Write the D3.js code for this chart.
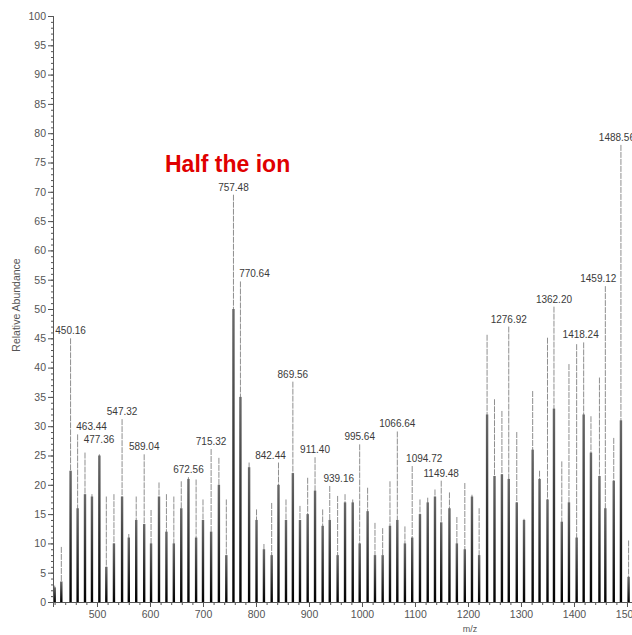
<!DOCTYPE html>
<html>
<head>
<meta charset="utf-8">
<script src="https://cdn.jsdelivr.net/npm/d3@7"></script>
<style>
  body { margin: 0; background: #fff; }
  svg { display: block; font-family: "Liberation Sans", Arial, sans-serif; }
  .axis path, .axis line { stroke: #555; }
  .axis text { fill: #555; font-size: 10.5px; }
</style>
</head>
<body>
<div id="chart"></div>
<script>
// peak clusters: m/z, tallest line, dense dark core
const peakMz = [420.2, 432.7, 450.16, 463.44, 477.36, 490.5, 504.5, 517.6, 532, 547.32,
  560, 574, 589.04, 602, 617, 631, 645, 659, 672.56, 687,
  700, 715.32, 730, 744, 757.48, 770.64, 787, 801, 815, 829.6,
  842.44, 856.6, 869.56, 883, 897.5, 911.40, 925.8, 939.16, 954, 968,
  982.5, 995.64, 1010.6, 1024.5, 1039, 1052.8, 1066.64, 1081, 1094.72, 1109.4,
  1124, 1137.7, 1149.48, 1165, 1179, 1194, 1207.5, 1221, 1236, 1250,
  1264, 1276.92, 1292, 1305.7, 1322, 1335, 1350, 1362.20, 1377, 1390.5,
  1405, 1418.24, 1432, 1448, 1459.12, 1475, 1488.56, 1503];

const peakTop = [2.8, 9.4, 45, 28.6, 25.5, 18.4, 25.2, 18, 18.4, 31.2,
  11.6, 18, 25.2, 15.7, 20.4, 18.4, 18, 20.6, 21.3, 20.9,
  17.5, 26.1, 24.6, 17.5, 69.5, 54.7, 23.8, 15.8, 9.9, 16.9,
  23.8, 17.5, 37.6, 16.4, 21.2, 24.7, 15.8, 19.8, 18.1, 18.4,
  17.5, 26.9, 19.5, 13.5, 12.6, 20.6, 29.1, 12.9, 23.2, 17.5,
  17.8, 19.2, 20.7, 18.7, 14.5, 20.3, 18.3, 16, 45.6, 34.6,
  32.6, 47, 29, 14.2, 36, 22.4, 45.1, 50.4, 24, 40.6,
  44, 44.3, 31.7, 38.3, 53.9, 28, 78, 10.5];

const peakCore = [2.5, 3.5, 22.4, 16, 18.4, 18, 25, 6, 10, 18,
  11, 14, 13.3, 10, 18, 12, 10, 16, 21, 11,
  14, 12, 20, 8, 50, 35, 23, 14, 9, 8,
  20, 14, 22, 14, 15, 19, 13, 14, 8, 17,
  17, 10, 15.5, 8, 8, 13, 14, 10, 11, 15,
  17, 18, 13.6, 16, 10, 9, 18, 8, 32, 21.5,
  21.8, 21, 17, 14, 26, 21, 17.5, 33, 13.7, 17,
  11, 32, 25.5, 21.5, 16, 20.7, 31, 4.3];

const labelMz = [450.16, 463.44, 477.36, 547.32, 589.04, 672.56, 715.32, 757.48, 770.64,
  842.44, 869.56, 911.40, 939.16, 995.64, 1066.64, 1094.72, 1149.48,
  1276.92, 1362.20, 1418.24, 1459.12, 1488.56];

const xTicks = [500, 600, 700, 800, 900, 1000, 1100, 1200, 1300, 1400, 1500];
const yTicks = d3.range(0, 101, 5);

// label nudges (px) where the instrument software moved labels sideways
const labelNudge = {463.44: 14, 477.36: 14, 770.64: 14, 842.44: -8, 939.16: 9,
  1094.72: 12, 1418.24: -3, 1459.12: -7, 1488.56: -4};
const labelLift = {477.36: 6};

function drawSpectrum() {
    let width = 632, height = 635;

    let svg = d3.select("#chart").append("svg")
        .attr("width", width)
        .attr("height", height);

    let x = d3.scaleLinear().domain([417, 1510]).range([53, 632.3]);
    let y = d3.scaleLinear().domain([0, 100]).range([602, 16]);

    let grad = svg.append("defs").append("linearGradient")
        .attr("id", "core")
        .attr("x1", 0).attr("y1", 0).attr("x2", 0).attr("y2", 1);
    grad.append("stop").attr("offset", "0%").attr("stop-color", "#6a6a6a");
    grad.append("stop").attr("offset", "60%").attr("stop-color", "#2a2a2a");
    grad.append("stop").attr("offset", "100%").attr("stop-color", "#000");

    let peaks = peakMz.map((m, i) => ({mz: m, top: peakTop[i], core: peakCore[i]}));

    // thin gray line up to the tallest member of each cluster
    svg.append("g").selectAll("line")
        .data(peaks)
        .enter().append("line")
        .attr("x1", d => x(d.mz))
        .attr("x2", d => x(d.mz))
        .attr("y1", d => y(d.top))
        .attr("y2", y(0))
        .attr("stroke", "#8f8f8f")
        .attr("stroke-width", 1)
        .attr("stroke-dasharray", "6,1");

    // dense dark part of the cluster
    svg.append("g").selectAll("rect")
        .data(peaks)
        .enter().append("rect")
        .attr("x", d => x(d.mz) - 1.2)
        .attr("width", 2.4)
        .attr("y", d => y(d.core))
        .attr("height", d => y(0) - y(d.core))
        .attr("fill", "url(#core)");

    // axes
    let yAxis = d3.axisLeft(y).tickValues(yTicks).tickSize(5).tickPadding(2);
    let yMinor = d3.axisLeft(y).tickValues(d3.range(0, 101, 1)).tickSize(2).tickFormat("");
    svg.append("g").attr("class", "axis")
        .attr("transform", "translate(53,0)")
        .call(yMinor);
    svg.append("g").attr("class", "axis")
        .attr("transform", "translate(53,0)")
        .call(yAxis);

    let xAxis = d3.axisBottom(x).tickValues(xTicks).tickSize(5).tickPadding(4).tickFormat(d3.format("d"));
    let xMinor = d3.axisBottom(x).tickValues(d3.range(420, 1510, 20)).tickSize(3).tickFormat("");
    svg.append("g").attr("class", "axis")
        .attr("transform", "translate(0,602)")
        .call(xMinor);
    svg.append("g").attr("class", "axis")
        .attr("transform", "translate(0,602)")
        .call(xAxis);

    // peak labels
    svg.append("g").selectAll("text")
        .data(labelMz)
        .enter().append("text")
        .attr("x", d => x(d) + (labelNudge[d] || 0))
        .attr("y", d => y(peakTop[peakMz.indexOf(d)]) - 4 - (labelLift[d] || 0))
        .attr("text-anchor", "middle")
        .attr("font-size", "10px")
        .attr("fill", "#3a3a3a")
        .text(d => d.toFixed(2));

    svg.append("text")
        .attr("x", 470).attr("y", 632)
        .attr("text-anchor", "middle")
        .attr("font-size", "9px")
        .attr("fill", "#555")
        .text("m/z");

    svg.append("text")
        .attr("transform", "translate(20,305) rotate(-90)")
        .attr("text-anchor", "middle")
        .attr("font-size", "10.5px")
        .attr("fill", "#555")
        .text("Relative Abundance");

    svg.append("text")
        .attr("x", 165).attr("y", 172)
        .attr("font-size", "23px")
        .attr("font-weight", "bold")
        .attr("fill", "#e00000")
        .text("Half the ion");
}

drawSpectrum();
</script>
</body>
</html>
